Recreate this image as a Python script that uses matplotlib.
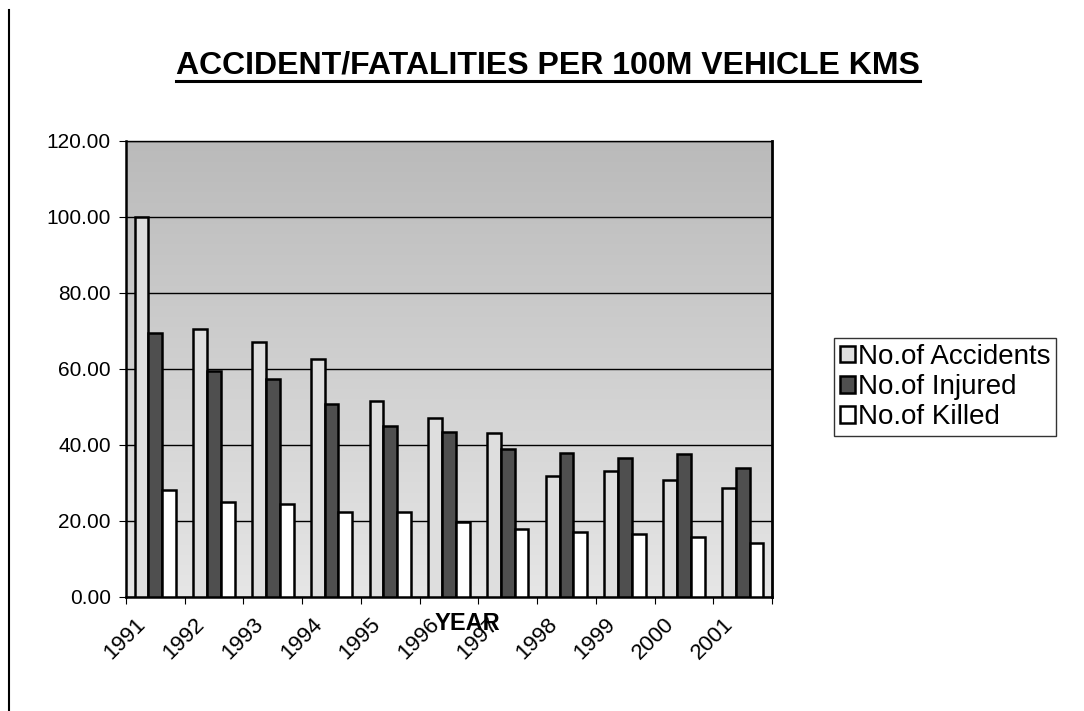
import numpy as np
import matplotlib
matplotlib.use("Agg")
import matplotlib.pyplot as plt
from matplotlib.lines import Line2D
from matplotlib.transforms import ScaledTranslation

plt.rcParams['font.family'] = ['Liberation Sans', 'DejaVu Sans']

years = ['1991', '1992', '1993', '1994', '1995', '1996', '1997', '1998', '1999', '2000', '2001']
accidents = [100.0, 70.6, 67.1, 62.7, 51.7, 47.1, 43.1, 31.9, 33.2, 30.8, 28.7]
injured = [69.4, 59.6, 57.5, 50.8, 45.0, 43.3, 38.9, 37.8, 36.6, 37.6, 33.9]
killed = [28.1, 25.1, 24.6, 22.3, 22.3, 19.7, 17.9, 17.0, 16.7, 15.8, 14.2]
series_names = ['No.of Accidents', 'No.of Injured', 'No.of Killed']
title = 'ACCIDENT/FATALITIES PER 100M VEHICLE KMS'

W, H = 1084, 711
fig = plt.figure(figsize=(W / 100, H / 100), dpi=100)
ax = fig.add_axes([126 / W, 1 - 597 / H, (772 - 126) / W, (597 - 141) / H])

# gradient stippled-like background
grad = np.linspace(0, 1, 256).reshape(-1, 1)
ax.imshow(grad, cmap=matplotlib.colors.LinearSegmentedColormap.from_list('g', ['#bababa', '#e6e6e6']),
          aspect='auto', extent=[0, 1, 0, 1], transform=ax.transAxes, zorder=0)

x = np.arange(len(years))
bw = 0.235
colors = ['#dedede', '#4f4f4f', '#ffffff']
data = [accidents, injured, killed]
for i, (vals, c, name) in enumerate(zip(data, colors, series_names)):
    ax.bar(x + (i - 1) * bw, vals, bw, color=c, edgecolor='black', linewidth=1.8,
           label=name, zorder=3)

ax.set_xlim(-0.5, len(years) - 0.5)
ax.set_ylim(0, 120)
ax.set_yticks(np.arange(0, 121, 20))
ax.set_yticklabels([f'{v:.2f}' for v in np.arange(0, 121, 20)], fontsize=15)
ax.yaxis.grid(True, color='black', linewidth=1.0, zorder=1)
ax.set_axisbelow(True)
ax.set_xticks(np.arange(len(years) + 1) - 0.5, minor=False)
ax.set_xticklabels([])
ax.set_xticks(x, minor=True)
ax.set_xticklabels(years, minor=True, rotation=45, ha='right', rotation_mode='anchor', fontsize=16)
ax.tick_params(axis='x', which='minor', length=0, pad=12)
ax.tick_params(axis='x', which='major', length=5, direction='out')
ax.tick_params(axis='y', length=5, pad=6)
off = ScaledTranslation(-20 / 100, 0, fig.dpi_scale_trans)
for lbl in ax.get_xticklabels(minor=True):
    lbl.set_transform(lbl.get_transform() + off)
for s in ax.spines.values():
    s.set_linewidth(1.8)
ax.spines['top'].set_linewidth(1.0)
ax.spines['right'].set_linewidth(2.0)

fig.text(467 / W, 1 - 623 / H, 'YEAR', fontsize=17, fontweight='bold', ha='center', va='center')
t = fig.text(548 / W, 1 - 66 / H, title, fontsize=23, fontweight='bold', ha='center', va='center')
# underline the title
fig.canvas.draw()
bb = t.get_window_extent()
fig.add_artist(Line2D([bb.x0 / W, bb.x1 / W], [1 - 81 / H, 1 - 81 / H], color='black', linewidth=2.2))

leg = fig.legend(loc='center left', bbox_to_anchor=(834 / W, 1 - 387 / H), fontsize=20,
                 frameon=True, fancybox=False, edgecolor='black', handlelength=0.55,
                 handleheight=0.55, handletextpad=0.12, borderpad=0.2, labelspacing=0.15,
                 borderaxespad=0)
leg.get_frame().set_linewidth(1.0)

# scan border line at left
fig.add_artist(Line2D([9 / W, 9 / W], [0, 1 - 10 / H], color='black', linewidth=1.5))

fig.savefig('out.png', dpi=100)
